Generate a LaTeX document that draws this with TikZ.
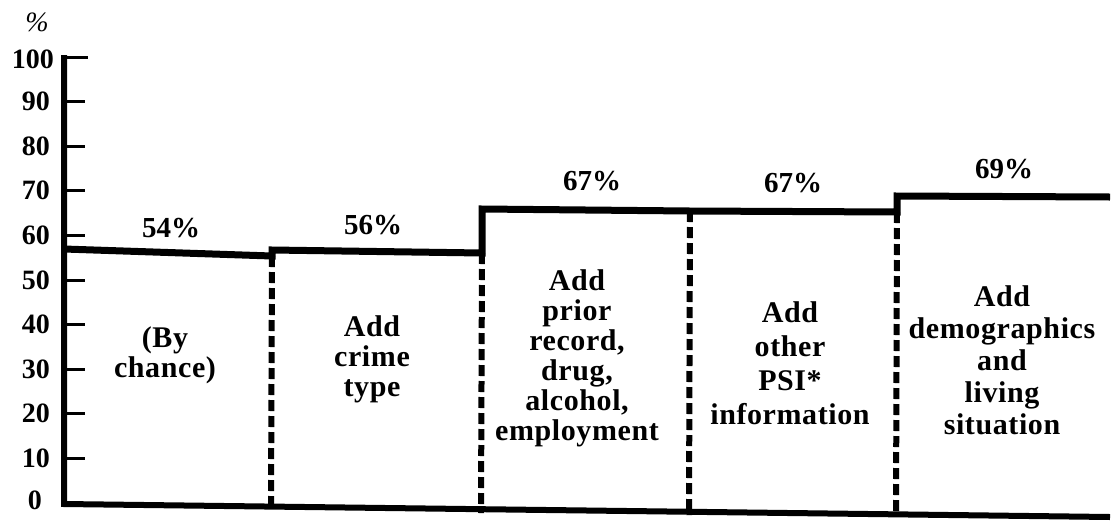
\documentclass[tikz,border=0pt]{standalone}
\usepackage{fontspec}
\setmainfont{Liberation Serif}
\newfontfamily\spacedfont[LetterSpace=2]{Liberation Serif}
\usetikzlibrary{positioning}

\begin{document}
\begin{tikzpicture}[
    x=1pt, y=-1pt,
    lbl/.style={font=\bfseries\fontsize{28}{30}\selectfont, inner sep=0pt},
    pct/.style={font=\bfseries\fontsize{29}{30}\selectfont, inner sep=0pt},
    boxtext/.style={font=\spacedfont\bfseries\fontsize{30}{30}\selectfont, inner sep=0pt, align=center},
    stepline/.style={line width=7pt, line join=miter},
    axisline/.style={line width=6pt, line join=miter},
    tickline/.style={line width=3pt},
    divider/.style={line width=6pt, dash pattern=on 11pt off 5pt}
]
    \useasboundingbox (0,0) rectangle (1114,520);

    % axis and ticks
    \coordinate (top) at (64,55);
    \coordinate (origin) at (64,504);
    \coordinate (xend) at (1110,517);
    \draw[axisline] (top) -- (origin) -- (xend);
    \foreach \v in {0,10,...,90} {
        \draw[tickline] (64,{503-4.46*\v}) -- ++(21,0);
    }
    \foreach \v in {10,20,...,90} {
        \node[lbl, anchor=east] at (50,{503-4.46*\v}) {\v};
    }
    \node[lbl, anchor=east] (zero) at (42,500) {0};
    \draw[tickline] (64,57) -- ++(24,0);
    \node[lbl, anchor=east] (hundred) at (54,59) {100};
    \node[lbl, font=\itshape\fontsize{28}{30}\selectfont] (unit) at (37,22) {\%};

    % step line
    \coordinate (s1) at (272,256);
    \coordinate (s2) at (482,253);
    \coordinate (s3) at (690,211);
    \coordinate (s4) at (897,212);
    \draw[stepline] (64,249) -- (s1) -- (272,250) -- (s2) -- (482,209)
        -- (s3) -- (s4) -- (897,196) -- (1110,197);

    % dividers
    \coordinate (b1) at (271,508);
    \coordinate (b2) at (481,513);
    \coordinate (b3) at (689,515);
    \coordinate (b4) at (896,516);
    \draw[divider] (s1) -- (b1);
    \draw[divider] (s2) -- (b2);
    \draw[divider] (s3) -- (b3);
    \draw[divider] (s4) -- (b4);

    % percentages
    \node[pct] (p1) at (171,228) {54\%};
    \node[pct] (p2) at (373,225) {56\%};
    \node[pct] (p3) at (592,181) {67\%};
    \node[pct] (p4) at (793,183) {67\%};
    \node[pct] (p5) at (1004,169) {69\%};

    % box labels
    \node[boxtext] (chance) at (165,355) {(By\\chance)};
    \node[boxtext] (crime) at (372,359) {Add\\crime\\type};
    \node[boxtext] (prior) at (577,358) {Add\\prior\\record,\\drug,\\alcohol,\\employment};
    \node[boxtext, font=\spacedfont\bfseries\fontsize{30}{34}\selectfont] (psi) at (790,363) {Add\\other\\PSI*\\information};
    \node[boxtext, font=\spacedfont\bfseries\fontsize{30}{32}\selectfont] (demo) at (1002,360) {Add\\demographics\\and\\living\\situation};
\end{tikzpicture}
\end{document}
